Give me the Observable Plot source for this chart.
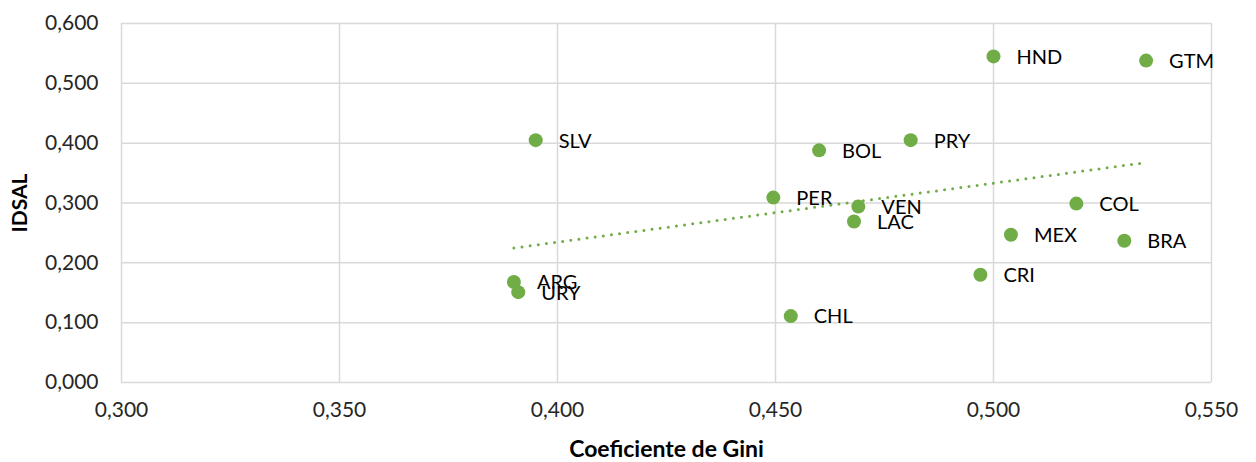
<!DOCTYPE html>
<html>
<head>
<meta charset="utf-8">
<script src="https://cdn.jsdelivr.net/npm/d3@7"></script>
<script src="https://cdn.jsdelivr.net/npm/@observablehq/plot@0.6"></script>
<style>
  html, body { margin: 0; padding: 0; background: #fff; }
  #chart svg { font-family: Lato, "Open Sans", sans-serif; }
  #chart g[aria-label$="axis label"], #chart g[aria-label$="axis label"] text { font-weight: bold; fill: #000; }
  #chart g[aria-label="x-axis label"], #chart g[aria-label="x-axis label"] text { font-size: 23px; }
  #chart g[aria-label="y-axis label"], #chart g[aria-label="y-axis label"] text { font-size: 21px; }
</style>
</head>
<body>
<div id="chart"></div>
<script>
const countries = ["HND","GTM","SLV","BOL","PRY","PER","VEN","LAC","COL","MEX","BRA","CRI","ARG","URY","CHL"];
const gini      = [0.500,0.535,0.395,0.460,0.481,0.4495,0.469,0.468,0.519,0.504,0.530,0.497,0.390,0.391,0.4535];
const idsal     = [0.545,0.538,0.405,0.388,0.405,0.309,0.294,0.269,0.299,0.247,0.237,0.180,0.168,0.151,0.111];
const xTicks = [0.300,0.350,0.400,0.450,0.500,0.550];
const yTicks = [0.000,0.100,0.200,0.300,0.400,0.500,0.600];

const data = countries.map((c, i) => ({country: c, gini: gini[i], idsal: idsal[i]}));
const fmt = d => d3.format(".3f")(d).replace(".", ",");
const green = "#70ad47";

const chart = Plot.plot({
  width: 1256,
  height: 462,
  marginLeft: 121,
  marginRight: 45,
  marginTop: 23,
  marginBottom: 80,
  style: {fontSize: "20px", color: "#262626"},
  x: {domain: [0.3, 0.55]},
  y: {domain: [0, 0.6]},
  marks: [
    Plot.gridX(xTicks, {stroke: "#d9d9d9", strokeOpacity: 1, strokeWidth: 1.5}),
    Plot.gridY(yTicks, {stroke: "#d9d9d9", strokeOpacity: 1, strokeWidth: 1.5}),
    Plot.axisX({ticks: xTicks, tickFormat: fmt, tickSize: 0, tickPadding: 20, label: "Coeficiente de Gini", labelAnchor: "center", labelArrow: "none", labelOffset: 74, fontSize: 21}),
    Plot.axisY({ticks: yTicks, tickFormat: fmt, tickSize: 0, tickPadding: 23, label: "IDSAL", labelAnchor: "center", labelArrow: "none", labelOffset: 109, fontSize: 21}),
    Plot.dot(data, {x: "gini", y: "idsal", r: 7, fill: green}),
    Plot.text(data, {x: "gini", y: "idsal", text: "country", textAnchor: "start", dx: 23, dy: 1, fill: "#000", fontSize: 20}),
    Plot.linearRegressionY(data, {x: "gini", y: "idsal", ci: 0, stroke: green, strokeWidth: 3, strokeDasharray: "0 8.2", strokeLinecap: "round"})
  ]
});
document.getElementById("chart").append(chart);
</script>
</body>
</html>
